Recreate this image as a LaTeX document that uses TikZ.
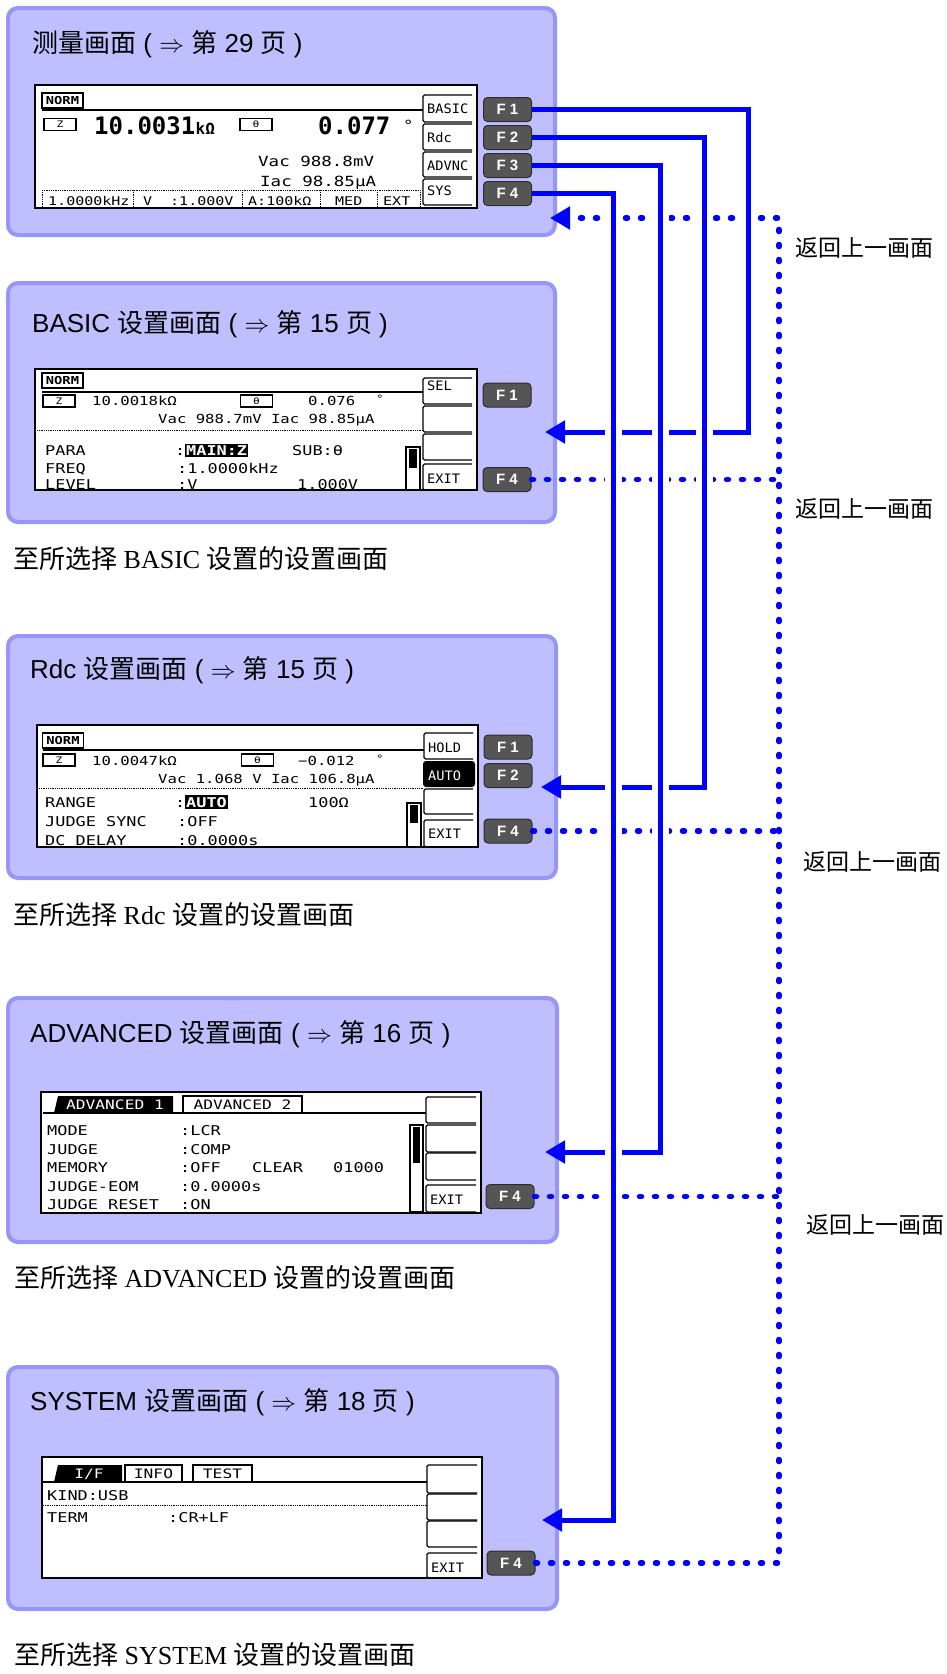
\documentclass[tikz,border=0pt]{standalone}
\usepackage{fontspec}
\setmainfont{Liberation Serif}
\setsansfont{Liberation Sans}
\newfontfamily\cjk{Noto Sans CJK SC}
\newfontfamily\lcd{DejaVu Sans Mono}[FakeStretch=1.25]
\newfontfamily\lcdk{DejaVu Sans Mono}[FakeStretch=1.05]
\newfontfamily\lcdbig{DejaVu Sans Mono}
\usetikzlibrary{arrows.meta}
\newcommand\myfs[1]{\fontsize{#1}{#1}\selectfont}
\newcommand\lcdtxt[4]{\node[lt=#1] (#2) at (#3) {#4};}
\newcommand\softkey[4]{\draw[skey] (#2,#3) -- (#1,#3) -- (#1,#4) -- (#2,#4);}
\definecolor{pfill}{RGB}{191,191,255}
\definecolor{pline}{RGB}{150,150,250}
\definecolor{fkfill}{RGB}{85,85,85}
\definecolor{fkline}{RGB}{45,45,45}
\tikzset{
  panel/.style={draw=pline, fill=pfill, line width=4pt, rounded corners=10pt},
  lcdscreen/.style={draw=black, fill=white, line width=2pt},
  fkey/.style={draw=fkline, fill=fkfill, line width=1pt, rounded corners=4pt, minimum width=48pt, minimum height=24pt, inner sep=0pt, text=white, font=\sffamily\bfseries\myfs{15}},
  ttl/.style={anchor=base west, inner sep=0pt, font=\sffamily\myfs{26}},
  capt/.style={anchor=base west, inner sep=0pt, font=\rmfamily\myfs{26}},
  backlbl/.style={anchor=west, inner sep=0pt, font=\cjk\myfs{23}},
  lt/.style={anchor=base west, inner sep=0pt, font=\lcd\myfs{#1}},
  lt/.default=13.5,
  kl/.style={anchor=base west, inner sep=0pt, font=\lcdk\myfs{13}},
  bignum/.style={anchor=base west, inner sep=0pt, font=\lcdbig\bfseries\myfs{24}},
  lcdline/.style={draw=black, line width=1.3pt},
  dotl/.style={draw=black, line width=0.9pt, dash pattern=on 0.9pt off 0.9pt},
  skey/.style={draw=black, line width=1.3pt, rounded corners=1.5pt},
  smallbox/.style={draw=black, line width=1.3pt, minimum width=32pt, minimum height=12pt, inner sep=0pt, font=\lcd\myfs{9}},
  normbox/.style={draw=black, line width=1.3pt, minimum width=41pt, minimum height=15pt, inner sep=0pt, font=\lcd\bfseries\myfs{11}},
  hl/.style={anchor=base west, fill=black, text=white, inner xsep=1pt, inner ysep=1.5pt, font=\lcd\bfseries\myfs{13.5}},
  conn/.style={draw=blue, line width=5pt},
  ret/.style={draw=blue, line width=5.5pt, line cap=round, dash pattern=on 2pt off 13pt},
  bluetip/.style={-{Triangle[length=20pt,width=22pt]}},
  casing/.style={draw=white, line width=17pt},
}
\begin{document}
\begin{tikzpicture}[x=1pt,y=-1pt]
\useasboundingbox (0,0) rectangle (946,1674);

% ================= panel 1 : measurement screen
\draw[panel] (8,8) rectangle (555,235);
\node[ttl] (t1) at (32,52) {{\cjk 测量画面} ( $\Rightarrow$ {\cjk 第} 29 {\cjk 页} )};
\draw[lcdscreen] (35,85) rectangle (477,208);
\node[normbox] (s1n) at (62.5,100.5) {NORM};
\draw[lcdline] (42,110) -- (423,110);
\node[smallbox] (s1z) at (60,124.5) {Z};
\node[bignum] (s1v) at (94,134) {10.0031};
\node[anchor=base west, inner sep=0pt, font=\lcdbig\bfseries\myfs{16}] (s1u) at (s1v.base east) {kΩ};
\node[smallbox] (s1t) at (256,124.5) {θ};
\node[bignum] (s1p) at (318,134) {0.077};
\lcdtxt{14}{s1deg}{403,130}{°}
\lcdtxt{14}{s1vac}{258,166}{Vac 988.8mV}
\lcdtxt{14}{s1iac}{260,186}{Iac 98.85μA}
\draw[dotl] (42,190) -- (420,190);
\foreach \x in {42,133,242,320,377,420} {\draw[dotl] (\x,190) -- (\x,208);}
\lcdtxt{12}{s1r1}{48,205}{1.0000kHz}
\lcdtxt{12}{s1r2}{143,205}{V}
\lcdtxt{12}{s1r3}{170,205}{:1.000V}
\lcdtxt{12}{s1r4}{248,205}{A:100kΩ}
\lcdtxt{12}{s1r5}{335,205}{MED}
\lcdtxt{12}{s1r6}{383,205}{EXT}
\softkey{423}{472}{95}{122}
\softkey{423}{472}{124}{150}
\softkey{423}{472}{152}{177}
\softkey{423}{472}{179}{205}
\node[kl] (s1k1) at (427,113) {BASIC};
\node[kl] (s1k2) at (427,142) {Rdc};
\node[kl] (s1k3) at (427,170) {ADVNC};
\node[kl] (s1k4) at (427,195) {SYS};
\node[fkey] (p1f1) at (507.5,109.5) {F 1};
\node[fkey] (p1f2) at (507.5,137.5) {F 2};
\node[fkey] (p1f3) at (507.5,165.5) {F 3};
\node[fkey] (p1f4) at (507.5,193.5) {F 4};

% ================= panel 2 : BASIC
\draw[panel] (8,283) rectangle (555,522);
\node[ttl] (t2) at (32,332) {BASIC {\cjk 设置画面} ( $\Rightarrow$ {\cjk 第} 15 {\cjk 页} )};
\draw[lcdscreen] (35,369) rectangle (477,490);
\node[normbox] (s2n) at (62.5,380.5) {NORM};
\draw[lcdline] (42,392) -- (423,392);
\node[smallbox] (s2z) at (59,401) {Z};
\lcdtxt{12.5}{s2v}{92,405}{10.0018kΩ}
\node[smallbox] (s2t) at (256.5,401) {θ};
\lcdtxt{12.5}{s2p}{308,405}{0.076}
\lcdtxt{10}{s2deg}{376,402}{°}
\lcdtxt{12.5}{s2vi}{158,423}{Vac 988.7mV Iac 98.85μA}
\draw[dotl] (37,430) -- (423,430);
\lcdtxt{13.5}{s2a}{45,455}{PARA}
\lcdtxt{13.5}{s2b}{175,455}{:}
\node[hl] (s2c) at (185,455) {MAIN:Z};
\lcdtxt{13.5}{s2d}{292,455}{SUB:θ}
\lcdtxt{13.5}{s2e}{45,473}{FREQ}
\lcdtxt{13.5}{s2f}{177,473}{:1.0000kHz}
\lcdtxt{13.5}{s2g}{45,489}{LEVEL}
\lcdtxt{13.5}{s2h}{177,489}{:V}
\lcdtxt{13.5}{s2i}{297,489}{1.000V}
\draw[lcdline] (406,447) rectangle (420,490);
\fill (409,449) rectangle (417,468);
\softkey{423}{472}{378}{404}
\softkey{423}{472}{406}{432}
\softkey{423}{472}{434}{460}
\softkey{423}{472}{464}{490}
\node[kl] (s2k1) at (427,390) {SEL};
\node[kl] (s2k4) at (427,483) {EXIT};
\node[fkey] (p2f1) at (507,395) {F 1};
\node[fkey] (p2f4) at (507,479.5) {F 4};
\node[capt] (c2) at (13,568) {{\cjk 至所选择} BASIC {\cjk 设置的设置画面}};

% ================= panel 3 : Rdc
\draw[panel] (8,636) rectangle (556,878);
\node[ttl] (t3) at (30,678) {Rdc {\cjk 设置画面} ( $\Rightarrow$ {\cjk 第} 15 {\cjk 页} )};
\draw[lcdscreen] (37,725) rectangle (478,847);
\node[normbox] (s3n) at (63,740.5) {NORM};
\draw[lcdline] (43,750) -- (424,750);
\node[smallbox] (s3z) at (59,760) {Z};
\lcdtxt{12.5}{s3v}{92,765}{10.0047kΩ}
\node[smallbox] (s3t) at (257.5,760) {θ};
\lcdtxt{12.5}{s3p}{298,765}{−0.012}
\lcdtxt{10}{s3deg}{376,762}{°}
\lcdtxt{12.5}{s3vi}{158,783}{Vac 1.068 V Iac 106.8μA}
\draw[dotl] (39,788) -- (424,788);
\lcdtxt{13.5}{s3a}{45,807}{RANGE}
\lcdtxt{13.5}{s3b}{175,807}{:}
\node[hl] (s3c) at (185,807) {AUTO};
\lcdtxt{13.5}{s3d}{308,807}{100Ω}
\lcdtxt{13.5}{s3e}{45,826}{JUDGE SYNC}
\lcdtxt{13.5}{s3f}{177,826}{:OFF}
\lcdtxt{13.5}{s3g}{45,845}{DC DELAY}
\lcdtxt{13.5}{s3h}{177,845}{:0.0000s}
\draw[lcdline] (407,803) rectangle (421,847);
\fill (410,805) rectangle (418,823);
\softkey{424}{473}{733}{759}
\fill[rounded corners=3pt] (423,761) rectangle (475,787);
\softkey{424}{473}{789}{814}
\softkey{424}{473}{820}{847}
\node[kl] (s3k1) at (428,752) {HOLD};
\node[kl, text=white] (s3k2) at (428,780) {AUTO};
\node[kl] (s3k4) at (428,838) {EXIT};
\node[fkey] (p3f1) at (508,747) {F 1};
\node[fkey] (p3f2) at (508,775.5) {F 2};
\node[fkey] (p3f4) at (508,831) {F 4};
\node[capt] (c3) at (13,924) {{\cjk 至所选择} Rdc {\cjk 设置的设置画面}};

% ================= panel 4 : ADVANCED
\draw[panel] (8,998) rectangle (557,1242);
\node[ttl] (t4) at (30,1042) {ADVANCED {\cjk 设置画面} ( $\Rightarrow$ {\cjk 第} 16 {\cjk 页} )};
\draw[lcdscreen] (41,1092) rectangle (481,1213);
\fill (54,1113) -- (58,1096) -- (173,1096) -- (173,1113) -- cycle;
\node[lt=13, anchor=center, text=white] (s4tab1) at (115,1105) {ADVANCED 1};
\draw[lcdline] (183,1113) -- (183,1096) -- (302,1096) -- (302,1113);
\node[lt=13, anchor=center] (s4tab2) at (242.5,1105) {ADVANCED 2};
\draw[lcdline] (43,1113) -- (426,1113);
\lcdtxt{13.5}{s4a}{47,1135}{MODE}
\lcdtxt{13.5}{s4b}{180,1135}{:LCR}
\lcdtxt{13.5}{s4c}{47,1154}{JUDGE}
\lcdtxt{13.5}{s4d}{180,1154}{:COMP}
\lcdtxt{13.5}{s4e}{47,1172}{MEMORY}
\lcdtxt{13.5}{s4f}{180,1172}{:OFF}
\lcdtxt{13.5}{s4g}{252,1172}{CLEAR}
\lcdtxt{13.5}{s4h}{333,1172}{01000}
\lcdtxt{13.5}{s4i}{47,1191}{JUDGE-EOM}
\lcdtxt{13.5}{s4j}{180,1191}{:0.0000s}
\lcdtxt{13.5}{s4k}{47,1209}{JUDGE RESET}
\lcdtxt{13.5}{s4l}{180,1209}{:ON}
\draw[lcdline] (410,1125) rectangle (423,1212);
\fill (413,1127) rectangle (420,1163);
\softkey{426}{476}{1097}{1123}
\softkey{426}{476}{1125}{1152}
\softkey{426}{476}{1153}{1180}
\softkey{426}{476}{1185}{1212}
\node[kl] (s4k4) at (430,1204) {EXIT};
\node[fkey] (p4f4) at (510,1196.5) {F 4};
\node[capt] (c4) at (14,1287) {{\cjk 至所选择} ADVANCED {\cjk 设置的设置画面}};

% ================= panel 5 : SYSTEM
\draw[panel] (8,1367) rectangle (557,1609);
\node[ttl] (t5) at (30,1410) {SYSTEM {\cjk 设置画面} ( $\Rightarrow$ {\cjk 第} 18 {\cjk 页} )};
\draw[lcdscreen] (42,1457) rectangle (482,1578);
\fill (54,1482) -- (58,1465) -- (122,1465) -- (122,1482) -- cycle;
\node[lt=13, anchor=center, text=white] (s5tab1) at (89,1474) {I/F};
\draw[lcdline] (125,1482) -- (125,1465) -- (182,1465) -- (182,1482);
\node[lt=13, anchor=center] (s5tab2) at (153.5,1474) {INFO};
\draw[lcdline] (193,1482) -- (193,1465) -- (252,1465) -- (252,1482);
\node[lt=13, anchor=center] (s5tab3) at (222.5,1474) {TEST};
\draw[lcdline] (43,1482) -- (427,1482);
\lcdtxt{13.5}{s5a}{47,1500}{KIND:USB}
\draw[dotl] (43,1505) -- (427,1505);
\lcdtxt{13.5}{s5b}{47,1522}{TERM}
\lcdtxt{13.5}{s5c}{168,1522}{:CR+LF}
\softkey{427}{477}{1465}{1493}
\softkey{427}{477}{1494}{1520}
\softkey{427}{477}{1521}{1547}
\softkey{427}{477}{1553}{1578}
\node[kl] (s5k4) at (431,1572) {EXIT};
\node[fkey] (p5f4) at (511,1563) {F 4};
\node[capt] (c5) at (14,1664) {{\cjk 至所选择} SYSTEM {\cjk 设置的设置画面}};

% ================= connectors
\coordinate (a1) at (748,432);  \coordinate (e2) at (545,432);
\coordinate (a2) at (704,787);  \coordinate (e3) at (541,787);
\coordinate (a3) at (660,1152); \coordinate (e4) at (545,1152);
\coordinate (a4) at (613,1520); \coordinate (e5) at (542,1520);
\coordinate (rtop) at (779,218); \coordinate (e1) at (550,218);

% dotted return paths
\draw[ret, bluetip] (p5f4.east) -| (rtop) -- (e1);
\draw[ret] (p2f4.east) -- (p2f4.east -| rtop);
\draw[ret] (p3f4.east) -- (p3f4.east -| rtop);
\draw[ret] (p4f4.east) -- (p4f4.east -| rtop);

% solid forward paths
\draw[conn, bluetip] (p1f1.east) -| (a1) -- (e2);
\draw[conn, bluetip] (p1f2.east) -| (a2) -- (e3);
\draw[conn, bluetip] (p1f3.east) -| (a3) -- (e4);
\draw[conn, bluetip] (p1f4.east) -| (a4) -- (e5);

% crossings: vertical lines pass over with a white gap
\coordinate (v1a) at (748,113);  \coordinate (v1b) at (748,428);
\coordinate (v2a) at (704,141);  \coordinate (v2b) at (704,783);
\coordinate (v3a) at (660,169);  \coordinate (v3b) at (660,1148);
\coordinate (v4a) at (613,197);  \coordinate (v4b) at (613,1516);
\foreach \i in {1,2,3,4} {
  \draw[casing] (v\i a) -- (v\i b);
  \draw[conn] (v\i a) -- (v\i b);
}

% return labels
\node[backlbl] (b1) at (795,248) {返回上一画面};
\node[backlbl] (b2) at (795,509) {返回上一画面};
\node[backlbl] (b3) at (803,862) {返回上一画面};
\node[backlbl] (b4) at (806,1225) {返回上一画面};
\end{tikzpicture}
\end{document}
